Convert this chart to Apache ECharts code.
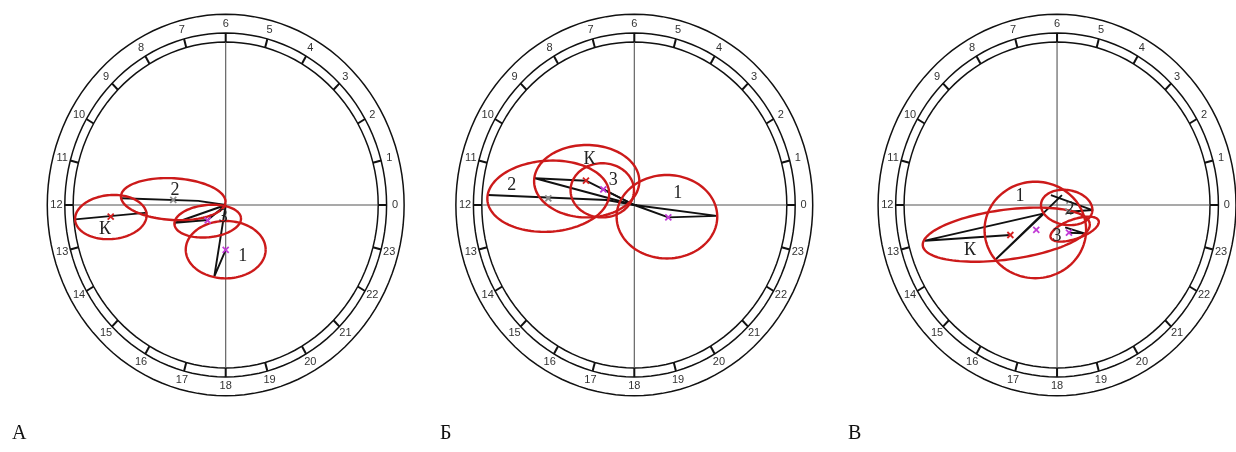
<!DOCTYPE html>
<html><head><meta charset="utf-8">
<script src="https://cdn.jsdelivr.net/npm/echarts@6/dist/echarts.min.js"></script>
<style>html,body{margin:0;padding:0;background:#fff}#c{width:1236px;height:452px}</style>
</head><body><div id="c"></div>
<script>
// ---- data ----
const hourLabels = ['0','1','2','3','4','5','6','7','8','9','10','11','12','13','14','15','16','17','18','19','20','21','22','23'];
const panelLetters = ['А','Б','В'];
const groupNames = ['К','2','3','1'];

// ellipses: [centerX, centerY, radiusX, radiusY, tiltDeg] (data units, dial inner radius = 100)
const ellipsesA = [[-75.3,-7.4,23.5,13.5,4],[-34.4,3.6,34.3,12.8,-3],[-11.8,-9.9,21.9,9.9,5],[0,-27.4,26.2,17.6,0]];
const ellipsesB = [[-31.2,14.6,34.5,22.2,0],[-56.4,5.4,40,21.8,3],[-21,9,20.8,16.6,0],[21.4,-7.2,33,25.6,0]];
const ellipsesC = [[-33.2,-18.2,55,15.3,7],[6.3,-1.5,16.9,10.7,-8],[11.5,-14.8,16.5,6,18],[-14.2,-15.3,33.2,29.6,0]];

// vector polylines per group
const vectorsA = [[[-98.7,-8.8],[-51.4,-4.7]], [[-68.2,4.1],[-18,2.5],[0,0]], [[0,0],[-33.2,-10.9],[-11.8,-9.2],[0,0]], [[0,0],[-7.5,-44],[0,-27.6]]];
const vectorsB = [[[0,0],[-65.1,16.4],[-31.7,14.9],[0,0]], [[-95.8,6.1],[-18.1,3.1],[0,0]], [[0,0],[-20.3,9.6]], [[0,0],[54,-6.7],[22.3,-7.6],[0,0]]];
const vectorsC = [[[-8.4,-5.1],[-86.3,-21.9],[-30.5,-18.4]], [[-4,6],[23.2,-3.1],[7.4,-4.1]], [[5.3,-13.7],[17.9,-17.4],[7.8,-17]], [[3.2,6.1],[-40,-33.3],[-8.4,-5.1]]];

// acrophase markers per group
const markersA = [[-75.4,-7.2],[-34.4,3.1],[-11.8,-9.4],[0,-27.6]];
const markersB = [[-31.7,14.9],[-56.4,4.1],[-20.3,9.6],[22.3,-7.6]];
const markersC = [[-30.5,-18.4],[7.4,-4.1],[7.8,-17],[-13.6,-15.3]];

// group label anchors
const labelsA = [[-79.1,-14.6],[-33.2,9.2],[-1.6,-7.5],[11.1,-31.7]];
const labelsB = [[-29.3,28.3],[-80.4,12.3],[-13.8,15.3],[28.5,7.2]];
const labelsC = [[-56.9,-27.6],[8.5,-2.6],[0,-19.4],[-24.2,5.5]];

// ---- layout / style ----
const panels = [
  {cx:225.7, cy:205, sx:1.525, sy:1.63, ell:ellipsesA, vec:vectorsA, mk:markersA, lb:labelsA, lx:12},
  {cx:634.3, cy:205, sx:1.525, sy:1.63, ell:ellipsesB, vec:vectorsB, mk:markersB, lb:labelsB, lx:440},
  {cx:1063.3, cy:205, sx:1.583, sy:1.63, ell:ellipsesC, vec:vectorsC, mk:markersC, lb:labelsC, lx:848}
];
const R_OUT = 117, R_MID = 105.5, R_IN = 100, R_LAB = 111;
const markerColors = ['#d42020','#8a8a8a','#c23cd6','#c23cd6'];
const RED = '#cc1a1a';

function ellipsePts(api, cx, cy, rx, ry, rot){
  const pts=[]; const th=rot*Math.PI/180;
  for(let k=0;k<=120;k++){const t=k/120*2*Math.PI; const ex=rx*Math.cos(t), ey=ry*Math.sin(t);
    pts.push(api.coord([cx+ex*Math.cos(th)-ey*Math.sin(th), cy+ex*Math.sin(th)+ey*Math.cos(th)]));}
  return pts;
}

const grid=[], xAxis=[], yAxis=[], series=[], title=[];
panels.forEach((p,i)=>{
  grid.push({left:p.cx-R_OUT*p.sx, top:p.cy-R_OUT*p.sy, width:2*R_OUT*p.sx, height:2*R_OUT*p.sy});
  xAxis.push({type:'value', gridIndex:i, min:-R_OUT, max:R_OUT, show:false});
  yAxis.push({type:'value', gridIndex:i, min:-R_OUT, max:R_OUT, show:false});
  const base={type:'custom', xAxisIndex:i, yAxisIndex:i, silent:true, animation:false, clip:false};
  // rings
  series.push(Object.assign({}, base, {data:[[R_OUT,0],[R_MID,0],[R_IN,0]], renderItem:(params,api)=>{
    const r=api.value(0);
    return {type:'polyline', shape:{points:ellipsePts(api,0,0,r,r,0)}, style:{stroke:'#111', lineWidth:1.5, fill:null}};
  }}));
  // crosshair axes
  series.push(Object.assign({}, base, {data:[[0,0]], renderItem:(params,api)=>{
    const a=api.coord([-R_IN,0]), b=api.coord([R_IN,0]), c=api.coord([0,-R_IN]), d=api.coord([0,R_IN]);
    return {type:'group', children:[
      {type:'line', shape:{x1:a[0],y1:a[1],x2:b[0],y2:b[1]}, style:{stroke:'#555', lineWidth:1.1}},
      {type:'line', shape:{x1:c[0],y1:c[1],x2:d[0],y2:d[1]}, style:{stroke:'#555', lineWidth:1.1}}]};
  }}));
  // hour ticks and labels
  series.push(Object.assign({}, base, {data:hourLabels.map((h,k)=>[k,0]), renderItem:(params,api)=>{
    const k=api.value(0); const ang=k*15*Math.PI/180; const c=Math.cos(ang), s=Math.sin(ang);
    const a=api.coord([R_IN*c,R_IN*s]), b=api.coord([R_MID*c,R_MID*s]), t=api.coord([R_LAB*c,R_LAB*s]);
    return {type:'group', children:[
      {type:'line', shape:{x1:a[0],y1:a[1],x2:b[0],y2:b[1]}, style:{stroke:'#111', lineWidth:2}},
      {type:'text', x:t[0], y:t[1], style:{text:hourLabels[k], fill:'#333', fontSize:11, fontFamily:'Liberation Sans, Arial, sans-serif', align:'center', verticalAlign:'middle'}}]};
  }}));
  // vectors
  series.push(Object.assign({}, base, {data:p.vec.map((v,k)=>[v[0][0],v[0][1],k]), renderItem:(params,api)=>{
    const v=p.vec[params.dataIndex];
    return {type:'polyline', shape:{points:v.map(q=>api.coord(q))}, style:{stroke:'#111', lineWidth:1.9, fill:null, lineJoin:'round'}};
  }}));
  // ellipses
  series.push(Object.assign({}, base, {data:p.ell, renderItem:(params,api)=>{
    return {type:'polyline', shape:{points:ellipsePts(api,api.value(0),api.value(1),api.value(2),api.value(3),api.value(4))}, style:{stroke:RED, lineWidth:2.4, fill:null}};
  }}));
  // markers
  series.push(Object.assign({}, base, {data:p.mk, renderItem:(params,api)=>{
    const q=api.coord([api.value(0),api.value(1)]); const h=3; const col=markerColors[params.dataIndex];
    return {type:'group', children:[
      {type:'line', shape:{x1:q[0]-h,y1:q[1]-h,x2:q[0]+h,y2:q[1]+h}, style:{stroke:col, lineWidth:1.8}},
      {type:'line', shape:{x1:q[0]-h,y1:q[1]+h,x2:q[0]+h,y2:q[1]-h}, style:{stroke:col, lineWidth:1.8}}]};
  }}));
  // group labels
  series.push(Object.assign({}, base, {data:p.lb, renderItem:(params,api)=>{
    const q=api.coord([api.value(0),api.value(1)]);
    return {type:'text', x:q[0], y:q[1], style:{text:groupNames[params.dataIndex], fill:'#222', fontSize:18, fontFamily:'Liberation Serif, Times New Roman, serif', align:'center', verticalAlign:'middle'}};
  }}));
  title.push({text:panelLetters[i], left:p.lx, top:424, padding:0, textStyle:{fontFamily:'Liberation Serif, Times New Roman, serif', fontSize:20, fontWeight:'normal', color:'#111'}});
});

const chart = echarts.init(document.getElementById('c'), null, {renderer:'canvas'});
chart.setOption({backgroundColor:'#fff', animation:false, title, grid, xAxis, yAxis, series});
</script></body></html>
